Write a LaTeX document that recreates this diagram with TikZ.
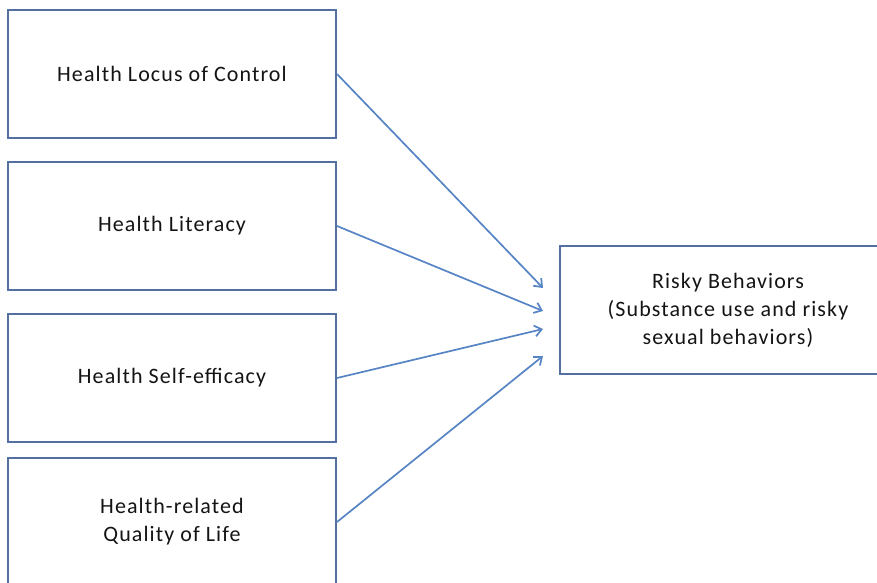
\documentclass[tikz,border=0pt]{standalone}
\usepackage{fontspec}
\setmainfont{Carlito}[LetterSpace=5]
\usetikzlibrary{arrows.meta}
\definecolor{boxline}{RGB}{84,112,160}
\definecolor{arrowline}{RGB}{86,132,196}
\definecolor{txt}{RGB}{20,20,20}
\tikzset{
  varbox/.style={draw=boxline, line width=2pt, minimum width=328pt, minimum height=128pt,
    inner sep=0pt, align=center, font=\fontsize{22}{28}\selectfont, text=txt},
  outbox/.style={varbox, minimum width=336pt},
  link/.style={draw=arrowline, line width=1.7pt, -{Straight Barb[length=7pt,width=11pt,line width=1.7pt]}}
}
\begin{document}
\begin{tikzpicture}[x=1pt,y=1pt]
\useasboundingbox (0,0) rectangle (877,582);
\node[varbox] (b1) at (172,508) {Health Locus of Control};
\node[varbox] (b2) at (172,356) {Health Literacy};
\node[varbox] (b3) at (172,204) {Health Self-efficacy};
\node[varbox] (b4) at (172,60) {Health-related\\Quality of Life};
\node[outbox] (r) at (728,272) {Risky Behaviors\\(Substance use and risky\\sexual behaviors)};
\coordinate (t1) at (543,294);
\coordinate (t2) at (543,271);
\coordinate (t3) at (543,253);
\coordinate (t4) at (543,226);
\draw[link] (b1.east) -- (t1);
\draw[link] (b2.east) -- (t2);
\draw[link] (b3.east) -- (t3);
\draw[link] (b4.east) -- (t4);
\end{tikzpicture}
\end{document}
